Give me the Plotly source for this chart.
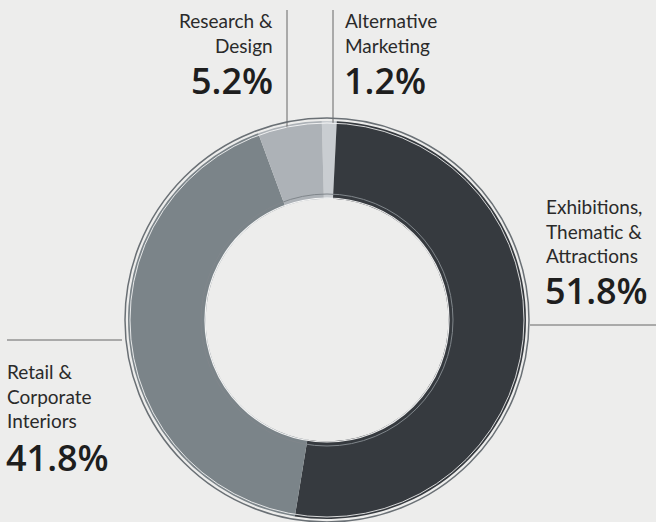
import plotly.graph_objects as go

labels = ["Alternative<br>Marketing", "Exhibitions,<br>Thematic &<br>Attractions",
          "Retail &<br>Corporate<br>Interiors", "Research &<br>Design"]
values = [1.2, 51.8, 41.8, 5.2]
colors = ["#c9cdd1", "#363a3f", "#7b8489", "#adb2b7"]

W, H = 656, 522
CX, CY, R = 327, 320, 199


def px(x):
    return x / W


def py(y):
    return 1 - y / H


fig = go.Figure()
fig.add_trace(go.Pie(
    labels=labels, values=values, hole=0.61, sort=False, direction="clockwise",
    rotation=-1.5, marker=dict(colors=colors, line=dict(width=0)),
    textinfo="none", hoverinfo="label+percent", showlegend=False,
    domain=dict(x=[px(CX - R), px(CX + R)], y=[py(CY + R), py(CY - R)]),
))

# label placement (pixel anchors) : x, name-center-y, pct-center-y, anchor
place = [
    (345, 33, 81, "left"),
    (546, 231, 290, "left"),
    (7, 396, 457, "left"),
    (273, 33, 81, "right"),
]
ann = []
for lab, v, (x, ny, pyy, anc) in zip(labels, values, place):
    ann.append(dict(text=lab, x=px(x - 2 if anc == "left" else x + 2), y=py(ny),
                    xref="paper", yref="paper",
                    xanchor=anc, yanchor="middle", align=anc, showarrow=False,
                    font=dict(family="Lato", size=19, color="#2a2a2a")))
    ann.append(dict(text=f"{v}%", x=px(x - 3 if anc == "left" else x + 2), y=py(pyy),
                    xref="paper", yref="paper", xanchor=anc, yanchor="middle",
                    showarrow=False,
                    font=dict(family="Open Sans", size=36, color="#1e1e1e", weight=600)))

shapes = []
# leader lines
for (x0, y0, x1, y1) in [(287, 10, 287, 128), (333, 10, 333, 123),
                         (530, 325, 656, 325), (7, 340, 122, 340)]:
    shapes.append(dict(type="line", xref="paper", yref="paper",
                       x0=px(x0), y0=py(y0), x1=px(x1), y1=py(y1),
                       line=dict(color="#666", width=1)))
# sketchy rings
for (r, col, w) in [(202, "#6a7075", 1.5), (197, "rgba(255,255,255,0.8)", 1),
                    (122, "rgba(255,255,255,0.9)", 1.2), (126, "#80868b", 1)]:
    shapes.append(dict(type="circle", xref="paper", yref="paper",
                       x0=px(CX - r), x1=px(CX + r), y0=py(CY + r), y1=py(CY - r),
                       line=dict(color=col, width=w), layer="above"))

fig.update_layout(
    width=W, height=H, margin=dict(l=0, r=0, t=0, b=0),
    paper_bgcolor="#ededec", plot_bgcolor="#ededec",
    annotations=ann, shapes=shapes,
)
fig.write_html("out.html", config={"displayModeBar": False},
               post_script="document.body.style.margin='0px';document.body.style.background='#ededec';")
